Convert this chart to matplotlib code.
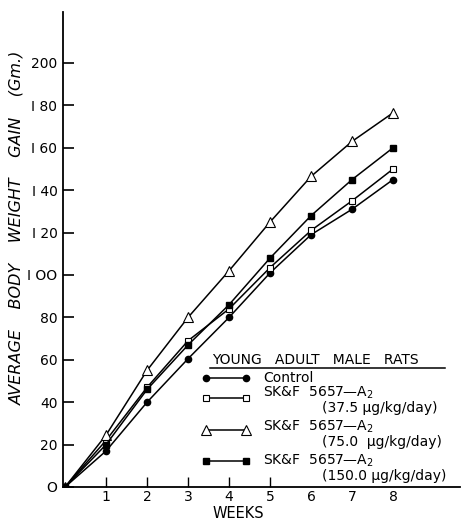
import matplotlib
matplotlib.use("Agg")
import matplotlib.pyplot as plt

weeks = [0, 1, 2, 3, 4, 5, 6, 7, 8]
control = [0, 17, 40, 60.5, 80, 101, 119, 131, 145]
dose_37 = [0, 22, 47, 69, 84, 103.5, 121, 135, 150]
dose_75 = [0, 24.5, 55, 80, 102, 125, 146.5, 163, 176.5]
dose_150 = [0, 20, 46, 67, 86, 108, 128, 145, 160]

yticks = [0, 20, 40, 60, 80, 100, 120, 140, 160, 180, 200]
ytick_labels = ["O", "20", "40", "60", "80", "I OO", "I 20", "I 40", "I 60", "I 80", "200"]
xticks = [1, 2, 3, 4, 5, 6, 7, 8]

plt.rcParams['font.family'] = ['DejaVu Sans']

fig = plt.figure(figsize=(4.62, 5.19), dpi=100)
W, H = 462, 519
x0, x1, y0, y1 = 63, 460, 487, 12
ax = fig.add_axes([x0 / W, (H - y0) / H, (x1 - x0) / W, (y0 - y1) / H])

lw = 1.1
ax.plot(weeks, control, color='black', lw=lw, marker='o', ms=4.5, mfc='black', mec='black')
ax.plot(weeks, dose_37, color='black', lw=lw, marker='s', ms=5, mfc='white', mec='black', mew=0.8)
ax.plot(weeks, dose_75, color='black', lw=lw, marker='^', ms=7, mfc='white', mec='black', mew=0.8)
ax.plot(weeks, dose_150, color='black', lw=lw, marker='s', ms=4.5, mfc='black', mec='black')

ax.set_xlim(-0.05, 9.63)
ax.set_ylim(0, 224)
ax.spines['top'].set_visible(False)
ax.spines['right'].set_visible(False)
for s in ('left', 'bottom'):
    ax.spines[s].set_linewidth(1.3)

ax.set_yticks(yticks)
ax.set_yticklabels(ytick_labels, fontsize=10)
ax.set_xticks(xticks)
ax.set_xticklabels([str(v) for v in xticks], fontsize=10)
ax.tick_params(axis='y', direction='in', length=8, width=1.2, pad=4)
ax.tick_params(axis='x', direction='in', length=7, width=1.0, pad=2)
for t in ax.xaxis.get_major_ticks()[5:]:
    t.tick1line.set_visible(False)

ax.set_ylabel("AVERAGE    BODY    WEIGHT    GAIN    (Gm.)", fontsize=11.5, style='italic')
ax.yaxis.label.set_va('center')
ax.yaxis.set_label_coords((17 - x0) / (x1 - x0), (y0 - 228) / (y0 - y1))
ax.set_xlabel("WEEKS", fontsize=10.5)
ax.xaxis.label.set_va('center')
ax.xaxis.set_label_coords((238 - x0) / (x1 - x0), (y0 - 513) / (y0 - y1))

# legend (manual)
def fx(px):
    return (px - x0) / (x1 - x0)

def fy(py):
    return (y0 - py) / (y0 - y1)

T = ax.transAxes
fs = 10
ax.text(fx(212), fy(360), "YOUNG   ADULT   MALE   RATS", transform=T, fontsize=fs, va='center', ha='left')
ax.plot([fx(210), fx(445)], [fy(368), fy(368)], transform=T, color='black', lw=1.1, clip_on=False)

entries = [
    (378, 378, dict(marker='o', ms=4.5, mfc='black', mec='black'), "Control", None),
    (398, 393, dict(marker='s', ms=5, mfc='white', mec='black', mew=0.8), "SK&F  5657—A$_2$", "(37.5 μg/kg/day)"),
    (430, 427, dict(marker='^', ms=7, mfc='white', mec='black', mew=0.8), "SK&F  5657—A$_2$", "(75.0  μg/kg/day)"),
    (461, 461, dict(marker='s', ms=4.5, mfc='black', mec='black'), "SK&F  5657—A$_2$", "(150.0 μg/kg/day)"),
]
for py, ty, mk, lab, sub in entries:
    ax.plot([fx(206), fx(246)], [fy(py), fy(py)], transform=T, color='black', lw=lw, clip_on=False, **mk)
    ax.text(fx(263), fy(ty), lab, transform=T, fontsize=fs, va='center', ha='left')
    if sub:
        ax.text(fx(322), fy(ty + 15), sub, transform=T, fontsize=fs, va='center', ha='left')

fig.savefig("out.png", dpi=100)
